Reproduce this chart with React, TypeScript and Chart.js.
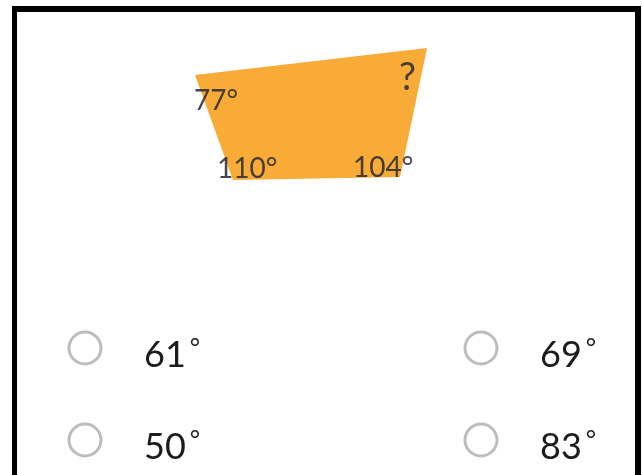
import React, { useEffect, useRef } from 'react';
import { Chart, registerables } from 'chart.js';

Chart.register(...registerables);

// Quadrilateral, split into an upper and lower boundary (x-monotonic) so the
// area between them can be filled by Chart.js' filler.
const shapeTopX = [195, 427];
const shapeTopY = [75, 48];
const shapeBottomX = [195, 233, 400, 427];
const shapeBottomY = [75, 180, 177, 48];

// Angle labels at the vertices
const angleLabels = ['77°', '?', '110°', '104°'];
const angleLabelX = [194, 399, 217, 353];
const angleLabelY = [110, 90, 178, 177];
const angleLabelSize = [28, 38, 28, 28];

// Answer options
const optionValues = ['61', '69', '50', '83'];
const optionX = [85, 481, 85, 481];
const optionY = [348, 348, 440, 440];

const toPoints = (xs: number[], ys: number[]) => xs.map((x, i) => ({ x, y: ys[i] }));

const FONT = 'Lato, "DejaVu Sans", sans-serif';

const quizPlugin = {
  id: 'quizPlugin',
  beforeDraw(chart: any) {
    const { ctx, width, height } = chart;
    ctx.save();
    ctx.fillStyle = '#ffffff';
    ctx.fillRect(0, 0, width, height);
    ctx.restore();
  },
  afterDatasetsDraw(chart: any) {
    const { ctx } = chart;
    const xs = chart.scales.x;
    const ys = chart.scales.y;
    ctx.save();
    ctx.textBaseline = 'alphabetic';
    ctx.textAlign = 'left';
    // angle labels
    ctx.fillStyle = 'rgba(45,45,55,0.88)';
    angleLabels.forEach((t, i) => {
      ctx.font = `${angleLabelSize[i]}px ${FONT}`;
      ctx.fillText(t, xs.getPixelForValue(angleLabelX[i]), ys.getPixelForValue(angleLabelY[i]));
    });
    // option labels
    optionValues.forEach((t, i) => {
      const cx = xs.getPixelForValue(optionX[i]);
      const cy = ys.getPixelForValue(optionY[i]);
      ctx.fillStyle = '#1c1c1c';
      ctx.font = `36px ${FONT}`;
      const tx = cx + 59;
      ctx.fillText(t, tx, cy + 19);
      const w = ctx.measureText(t).width;
      ctx.font = `25px ${FONT}`;
      ctx.fillText('°', tx + w + 4, cy + 8);
    });
    // frame
    ctx.fillStyle = '#000000';
    ctx.fillRect(12, 6, 5, chart.height - 6);
    ctx.fillRect(12, 6, 629, 6);
    ctx.fillRect(635, 6, 6, chart.height - 6);
    ctx.restore();
  },
};

export default function App() {
  const ref = useRef<HTMLCanvasElement>(null);
  useEffect(() => {
    if (!ref.current) return;
    const chart = new Chart(ref.current, {
      type: 'scatter',
      data: {
        datasets: [
          {
            data: toPoints(shapeTopX, shapeTopY),
            showLine: true,
            borderWidth: 0,
            borderColor: 'rgba(0,0,0,0)',
            pointRadius: 0,
            fill: false,
            order: 2,
          } as any,
          {
            data: toPoints(shapeBottomX, shapeBottomY),
            showLine: true,
            borderWidth: 0,
            borderColor: 'rgba(0,0,0,0)',
            backgroundColor: '#F8AB37',
            pointRadius: 0,
            fill: '-1',
            order: 1,
          } as any,
          {
            data: toPoints(optionX, optionY),
            showLine: false,
            pointRadius: 16,
            pointBorderWidth: 3,
            pointBorderColor: '#bdbdbd',
            pointBackgroundColor: '#ffffff',
            order: 0,
          } as any,
        ],
      },
      options: {
        animation: false,
        responsive: false,
        events: [],
        layout: { padding: 0, autoPadding: false },
        plugins: { legend: { display: false }, tooltip: { enabled: false } },
        scales: {
          x: { type: 'linear', min: 0, max: 642, display: false },
          y: { type: 'linear', min: 0, max: 475, reverse: true, display: false },
        },
      },
      plugins: [quizPlugin],
    });
    return () => chart.destroy();
  }, []);
  return (
    <div style={{ position: 'fixed', left: 0, top: 0, width: 642, height: 475, background: '#fff' }}>
      <canvas ref={ref} width={642} height={475} style={{ width: 642, height: 475, display: 'block' }} />
    </div>
  );
}
